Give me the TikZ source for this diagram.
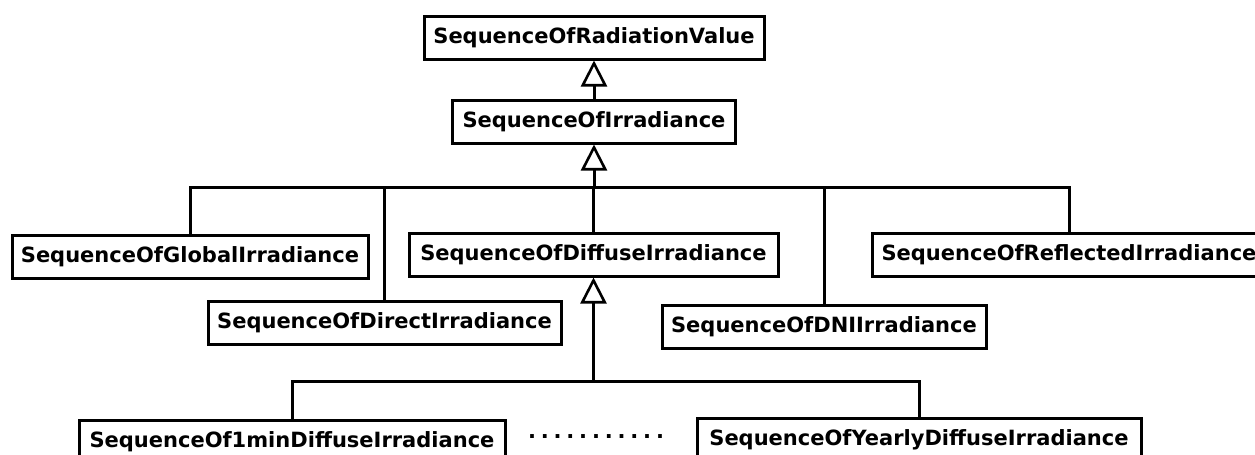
\documentclass[tikz,border=0pt]{standalone}
\usepackage{fontspec}
\setmainfont{DejaVu Sans}
\usetikzlibrary{arrows.meta}
\begin{document}
\begin{tikzpicture}[x=0.5pt,y=-0.5pt,line join=miter,
	cls/.style={draw,line width=1.5pt,inner sep=0pt,minimum height=21.5pt,font=\fontsize{10.5}{12}\selectfont\bfseries},
	gen/.style={line width=1.5pt},
	inh/.style={gen,-{Triangle[open,length=13pt,width=13pt,line width=1.3pt]}}]
	\useasboundingbox (0,0) rectangle (1255,455);
	\clip (0,0) rectangle (1255,455);
	\node[cls,minimum width=170pt] (radval) at (594,37.5) {SequenceOfRadiationValue};
	\node[cls,minimum width=141.5pt] (irr) at (594,121.5) {SequenceOfIrradiance};
	\node[cls,minimum width=178pt] (glob) at (190,256.5) {SequenceOfGlobalIrradiance};
	\node[cls,minimum width=176.5pt] (dir) at (384.5,323) {SequenceOfDirectIrradiance};
	\node[cls,minimum width=184.5pt] (diff) at (593.5,254.5) {SequenceOfDiffuseIrradiance};
	\node[cls,minimum width=162pt] (dni) at (824,327) {SequenceOfDNIIrradiance};
	\node[cls,minimum width=197pt] (refl) at (1069,254.5) {SequenceOfReflectedIrradiance};
	\node[cls,minimum width=213pt] (min1) at (292,441.5) {SequenceOf1minDiffuseIrradiance};
	\node[cls,minimum width=222pt] (yearly) at (919,439.5) {SequenceOfYearlyDiffuseIrradiance};
	\node[inner sep=0pt,font=\fontsize{10.5}{12}\selectfont\bfseries] (dots) at (596,437)
		{\foreach \i in {1,...,11}{\makebox[6.4pt]{.}}};
	% generalisation
	\draw[inh] (irr) -- (radval);
	\coordinate (j1) at (594,187);
	\draw[inh] (j1) -- (irr);
	\foreach \c in {glob,dir,diff,dni,refl}
		\draw[gen] (\c.north) |- (j1);
	\coordinate (j2) at (593.5,381);
	\draw[inh] (j2) -- (diff);
	\foreach \c in {min1,yearly}
		\draw[gen] (\c.north) |- (j2);
\end{tikzpicture}
\end{document}
